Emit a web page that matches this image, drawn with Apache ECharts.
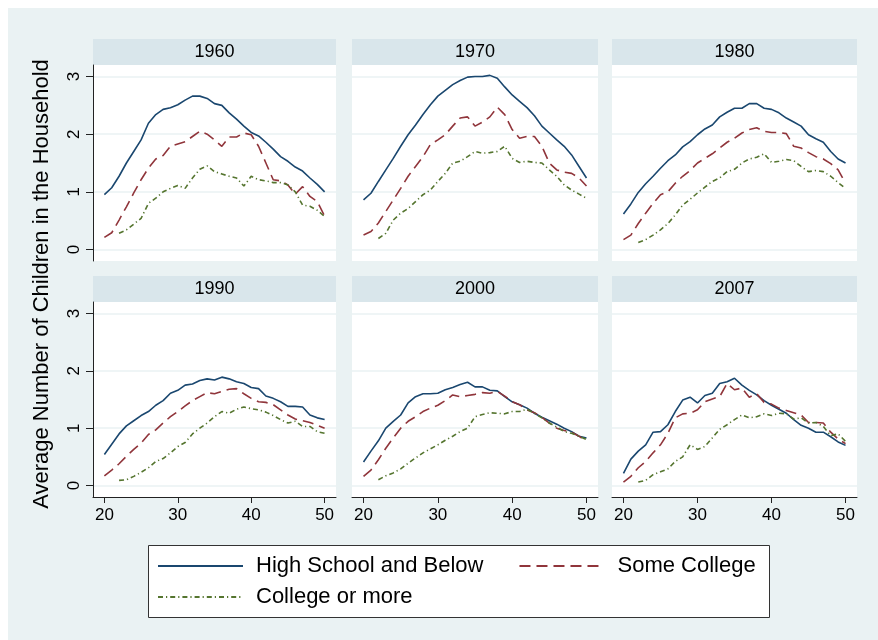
<!DOCTYPE html>
<html>
<head>
<meta charset="utf-8">
<script src="https://cdn.jsdelivr.net/npm/echarts@6/dist/echarts.min.js"></script>
<style>html,body{margin:0;padding:0;background:#fff;}#c{width:878px;height:640px;}</style>
</head>
<body>
<div id="c"></div>
<script>
// ---------- data ----------
const years = ['1960', '1970', '1980', '1990', '2000', '2007'];
const ages = [20,21,22,23,24,25,26,27,28,29,30,31,32,33,34,35,36,37,38,39,40,41,42,43,44,45,46,47,48,49,50];
const agesCollege = [22,23,24,25,26,27,28,29,30,31,32,33,34,35,36,37,38,39,40,41,42,43,44,45,46,47,48,49,50];
const xTicks = [20, 30, 40, 50];
const yTicks = [0, 1, 2, 3];
const seriesNames = ['High School and Below', 'Some College', 'College or more'];
const yTitle = 'Average Number of Children in the Household';

const hs1960 = [0.95,1.07,1.27,1.50,1.70,1.90,2.19,2.34,2.43,2.46,2.51,2.59,2.66,2.66,2.62,2.53,2.50,2.37,2.26,2.14,2.03,1.97,1.86,1.74,1.61,1.53,1.43,1.36,1.24,1.13,1.00];
const sc1960 = [0.21,0.29,0.51,0.74,0.98,1.21,1.41,1.57,1.63,1.79,1.83,1.87,1.96,2.05,2.00,1.90,1.79,1.95,1.95,2.02,1.99,1.79,1.50,1.21,1.19,1.12,0.96,1.09,0.92,0.83,0.58];
const col1960 = [0.28,0.34,0.44,0.54,0.80,0.89,1.00,1.06,1.11,1.06,1.24,1.39,1.45,1.35,1.31,1.27,1.24,1.10,1.27,1.21,1.19,1.16,1.16,1.12,1.00,0.77,0.75,0.68,0.57];

const hs1970 = [0.86,0.975,1.18,1.38,1.58,1.79,1.99,2.16,2.34,2.51,2.66,2.76,2.86,2.93,2.99,3.00,3.00,3.02,2.97,2.82,2.68,2.57,2.46,2.32,2.14,2.02,1.90,1.79,1.64,1.44,1.24];
const sc1970 = [0.25,0.31,0.46,0.66,0.86,1.06,1.27,1.44,1.61,1.82,1.90,1.99,2.14,2.28,2.30,2.14,2.21,2.30,2.47,2.34,2.08,1.93,1.96,1.96,1.79,1.50,1.38,1.34,1.32,1.24,1.10];
const col1970 = [0.19,0.28,0.51,0.63,0.71,0.83,0.95,1.03,1.18,1.32,1.50,1.53,1.61,1.70,1.67,1.68,1.70,1.79,1.58,1.51,1.53,1.51,1.50,1.38,1.27,1.12,1.03,0.96,0.89];

const hs1980 = [0.615,0.79,0.99,1.14,1.27,1.41,1.54,1.64,1.78,1.87,1.99,2.09,2.16,2.30,2.38,2.45,2.45,2.53,2.53,2.45,2.43,2.37,2.28,2.21,2.14,1.99,1.92,1.86,1.70,1.57,1.50];
const sc1980 = [0.17,0.25,0.45,0.63,0.80,0.95,1.00,1.15,1.27,1.37,1.50,1.58,1.66,1.76,1.86,1.93,2.02,2.08,2.11,2.05,2.03,2.03,2.01,1.79,1.76,1.68,1.61,1.57,1.49,1.38,1.15];
const col1980 = [0.12,0.17,0.25,0.34,0.45,0.60,0.77,0.87,0.98,1.08,1.18,1.24,1.35,1.39,1.50,1.57,1.60,1.66,1.51,1.53,1.56,1.54,1.44,1.35,1.37,1.35,1.27,1.16,1.06];

const hs1990 = [0.54,0.72,0.90,1.04,1.13,1.22,1.29,1.40,1.48,1.61,1.66,1.75,1.77,1.83,1.86,1.84,1.89,1.86,1.81,1.78,1.71,1.69,1.56,1.52,1.46,1.38,1.38,1.37,1.23,1.18,1.15];
const sc1990 = [0.17,0.27,0.38,0.51,0.63,0.74,0.89,0.97,1.09,1.20,1.29,1.39,1.48,1.55,1.62,1.60,1.64,1.68,1.69,1.60,1.52,1.46,1.45,1.41,1.32,1.23,1.16,1.13,1.10,1.05,1.00];
const col1990 = [0.09,0.10,0.16,0.23,0.31,0.42,0.47,0.57,0.68,0.75,0.90,1.00,1.09,1.20,1.29,1.26,1.33,1.37,1.34,1.32,1.28,1.22,1.15,1.09,1.12,1.03,1.03,0.94,0.91];

const hs2000 = [0.41,0.60,0.78,1.00,1.12,1.23,1.44,1.55,1.60,1.60,1.61,1.67,1.71,1.76,1.80,1.72,1.72,1.66,1.65,1.55,1.46,1.41,1.35,1.26,1.19,1.13,1.07,1.00,0.94,0.86,0.83];
const sc2000 = [0.16,0.27,0.45,0.65,0.83,1.00,1.12,1.20,1.29,1.35,1.40,1.48,1.58,1.55,1.57,1.59,1.62,1.61,1.64,1.56,1.46,1.41,1.32,1.27,1.19,1.09,1.00,0.96,0.93,0.86,0.77];
const col2000 = [0.10,0.17,0.22,0.29,0.39,0.48,0.57,0.64,0.71,0.79,0.86,0.94,1.00,1.20,1.24,1.27,1.26,1.25,1.29,1.29,1.33,1.26,1.18,1.09,1.02,0.94,0.91,0.86,0.80];

const hs2007 = [0.21,0.46,0.60,0.71,0.93,0.94,1.06,1.29,1.49,1.54,1.44,1.57,1.61,1.78,1.81,1.87,1.75,1.66,1.58,1.48,1.40,1.33,1.26,1.15,1.05,1.00,0.93,0.93,0.85,0.76,0.70];
const sc2007 = [0.06,0.16,0.31,0.42,0.57,0.71,0.91,1.18,1.25,1.26,1.32,1.46,1.51,1.55,1.78,1.67,1.70,1.54,1.60,1.45,1.42,1.35,1.31,1.27,1.23,1.10,1.10,1.09,0.93,0.81,0.73];
const col2007 = [0.06,0.09,0.19,0.24,0.29,0.42,0.50,0.71,0.63,0.68,0.83,0.98,1.06,1.15,1.23,1.18,1.20,1.25,1.22,1.26,1.25,1.16,1.18,1.09,1.10,1.03,0.87,0.90,0.77];

const panelData = [
  [hs1960, sc1960, col1960],
  [hs1970, sc1970, col1970],
  [hs1980, sc1980, col1980],
  [hs1990, sc1990, col1990],
  [hs2000, sc2000, col2000],
  [hs2007, sc2007, col2007]
];

// ---------- layout & style ----------
const FONT = 'Liberation Sans, Arial, Helvetica, sans-serif';
const colX = [[93, 336], [352, 598], [612, 857]];
const rowY = [{strip: 39, top: 65, bottom: 261}, {strip: 276, top: 302, bottom: 497}];
const colors = ['#1A476F', '#90353B', '#55752F'];
const lineTypes = ['solid', [11, 6], [5, 3, 1.2, 3]];
const bg = '#EAF2F3', stripColor = '#D9E6EB', gridColor = '#EAF2F3', axisColor = '#222';

const grids = [], xAxes = [], yAxes = [], series = [];
const graphics = [
  {type: 'rect', shape: {x: 8, y: 8, width: 870, height: 632}, style: {fill: bg}, z: -100, silent: true}
];

years.forEach((yr, i) => {
  const c = i % 3, r = Math.floor(i / 3);
  const [x0, x1] = colX[c];
  const R = rowY[r];
  grids.push({left: x0, top: R.top, width: x1 - x0, height: R.bottom - R.top,
    show: true, backgroundColor: '#fff', borderWidth: 0, containLabel: false});
  graphics.push({type: 'rect', shape: {x: x0, y: R.strip, width: x1 - x0, height: R.top - R.strip},
    style: {fill: stripColor}, silent: true, z: -50});
  graphics.push({type: 'text', x: (x0 + x1) / 2, y: (R.strip + R.top) / 2 + 0.5,
    style: {text: yr, fill: '#000', font: '18px ' + FONT, textAlign: 'center', textVerticalAlign: 'middle'}, silent: true, z: 10});
  const showX = r === 1, showY = c === 0;
  xAxes.push({
    gridIndex: i, type: 'value', min: 18.45, max: 51.55,
    axisLine: {show: showX, onZero: false, lineStyle: {color: axisColor, width: 1}},
    axisTick: {show: showX, length: 6, customValues: xTicks, lineStyle: {color: axisColor}},
    axisLabel: {show: showX, customValues: xTicks, fontSize: 17, fontFamily: FONT, color: '#000', margin: 10},
    splitLine: {show: false}
  });
  yAxes.push({
    gridIndex: i, type: 'value', min: -0.2, max: 3.2,
    axisLine: {show: showY, onZero: false, lineStyle: {color: axisColor, width: 1}},
    axisTick: {show: showY, length: 7, customValues: yTicks, lineStyle: {color: axisColor}},
    axisLabel: {show: showY, customValues: yTicks, rotate: 90, fontSize: 17, fontFamily: FONT, color: '#000', margin: 10},
    splitLine: {show: true, lineStyle: {color: gridColor, width: 1.5}}
  });
  const d = panelData[i];
  [0, 1, 2].forEach(k => {
    const xs = k === 2 ? agesCollege : ages;
    series.push({
      type: 'line', name: seriesNames[k], xAxisIndex: i, yAxisIndex: i,
      data: xs.map((a, j) => [a, d[k][j]]),
      symbol: 'none', smooth: false, animation: false,
      lineStyle: {color: colors[k], width: 1.6, type: lineTypes[k]},
      itemStyle: {color: colors[k]}
    });
  });
});

// legend box
graphics.push({type: 'rect', shape: {x: 148.5, y: 545.5, width: 621, height: 72},
  style: {fill: '#fff', stroke: '#333', lineWidth: 1}, silent: true, z: -40});
// y-axis title
graphics.push({type: 'text', x: 42, y: 284, rotation: Math.PI / 2,
  style: {text: yTitle, fill: '#000', font: '22px ' + FONT, textAlign: 'center', textVerticalAlign: 'middle'}, silent: true, z: 10});

const legendCommon = {
  orient: 'horizontal', padding: 0, itemWidth: 85, itemHeight: 22, itemGap: 35,
  selectedMode: false,
  itemStyle: {opacity: 0},
  textStyle: {fontSize: 22, fontFamily: FONT, color: '#000', padding: [0, 0, 0, 8]}
};

const chart = echarts.init(document.getElementById('c'), null, {renderer: 'canvas'});
chart.setOption({
  animation: false,
  backgroundColor: '#fff',
  grid: grids,
  xAxis: xAxes,
  yAxis: yAxes,
  series: series,
  legend: [
    Object.assign({}, legendCommon, {data: [seriesNames[0], seriesNames[1]], left: 157, top: 555}),
    Object.assign({}, legendCommon, {data: [seriesNames[2]], left: 157, top: 586})
  ],
  graphic: graphics
});
</script>
</body>
</html>
